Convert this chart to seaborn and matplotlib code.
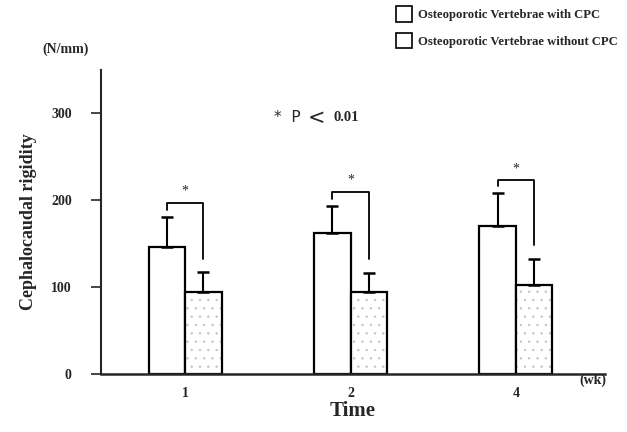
import numpy as np
import pandas as pd
import matplotlib.pyplot as plt
import seaborn as sns
from matplotlib.patches import Patch, Rectangle

# data
weeks = ["1", "2", "4"]
groups = ["Osteoporotic Vertebrae with CPC", "Osteoporotic Vertebrae without CPC"]
with_cpc = [146, 162, 171]
with_cpc_sd = [35, 32, 38]
without_cpc = [95, 94, 102]
without_cpc_sd = [22, 22, 31]
bracket_top = [197, 210, 223]

df = pd.DataFrame({
    "week": weeks * 2,
    "group": [groups[0]] * 3 + [groups[1]] * 3,
    "rigidity": with_cpc + without_cpc,
    "sd": with_cpc_sd + without_cpc_sd,
})

sns.set_style("ticks")
plt.rcParams["font.family"] = ["Liberation Serif", "DejaVu Serif"]
plt.rcParams["hatch.linewidth"] = 0.5

fig = plt.figure(figsize=(6.27, 4.32), dpi=100)
ax = fig.add_axes([0.161, 0.134, 0.804, 0.704])

sns.barplot(data=df, x="week", y="rigidity", hue="group", order=weeks,
            hue_order=groups, palette=["white", "white"], width=0.44,
            edgecolor="black", linewidth=1.6, errorbar=None, legend=False, ax=ax)

bars = ax.patches[:6]
# stipple for the "without CPC" bars: light hatch, then black outline on top
for b in bars[3:6]:
    b.set_hatch("..")
    b.set_edgecolor("#c4c4c4")
    b.set_linewidth(0)
    ax.add_patch(Rectangle((b.get_x(), b.get_y()), b.get_width(), b.get_height(),
                           fill=False, edgecolor="black", linewidth=1.6, zorder=2))

# one-sided error bars
for i, b in enumerate(bars):
    xc = b.get_x() + b.get_width() / 2
    ax.errorbar(xc, df["rigidity"][i], yerr=[[0], [df["sd"][i]]], fmt="none",
                ecolor="black", elinewidth=1.5, capsize=4.5, capthick=1.8, zorder=3)

# significance brackets
for k in range(3):
    b1, b2 = bars[k], bars[k + 3]
    x1 = b1.get_x() + b1.get_width() / 2
    x2 = b2.get_x() + b2.get_width() / 2
    top = bracket_top[k]
    y1 = with_cpc[k] + with_cpc_sd[k] + 8
    y2 = without_cpc[k] + without_cpc_sd[k] + 16
    ax.plot([x1, x1, x2, x2], [y1, top, top, y2], color="black", lw=1.3)
    ax.text((x1 + x2) / 2, top + 6, "*", ha="center", va="bottom", fontsize=10)

ax.set_ylim(0, 350)
ax.set_xlim(-0.51, 2.54)
ax.set_yticks([0, 100, 200, 300])
ax.tick_params(axis="y", length=7, width=1.2, labelsize=10, pad=14)
ax.tick_params(axis="x", length=0, labelsize=10, pad=9)
for lab in ax.get_yticklabels() + ax.get_xticklabels():
    lab.set_fontweight("bold")
sns.despine(ax=ax)
ax.spines["left"].set_linewidth(1.5)
ax.spines["bottom"].set_linewidth(1.8)

ax.set_xlabel("Time", fontsize=15, fontweight="bold", labelpad=1)
ax.set_ylabel("Cephalocaudal rigidity", fontsize=13, fontweight="bold", labelpad=10)

fig.text(0.104, 0.885, "(N/mm)", fontsize=10, fontweight="bold", ha="center", va="center")
fig.text(0.945, 0.12, "(wk)", fontsize=10, fontweight="bold", ha="center", va="center")
fig.text(0.437, 0.727, "*  P", fontsize=11, ha="left", va="center", family="DejaVu Sans")
fig.text(0.505, 0.727, "<", fontsize=15, ha="center", va="center", family="DejaVu Sans")
fig.text(0.532, 0.727, "0.01", fontsize=10.5, fontweight="bold", ha="left", va="center")

# legend
handles = [Patch(facecolor="white", edgecolor="black", linewidth=1.2),
           Patch(facecolor="white", edgecolor="black", linewidth=1.2)]
leg = fig.legend(handles, groups, loc="upper left", bbox_to_anchor=(0.613, 1.012),
                 frameon=False, fontsize=9.1, handlelength=1.3, handleheight=1.5,
                 labelspacing=0.9, handletextpad=0.5)
for t in leg.get_texts():
    t.set_fontweight("bold")

fig.savefig("out.png", dpi=100)
